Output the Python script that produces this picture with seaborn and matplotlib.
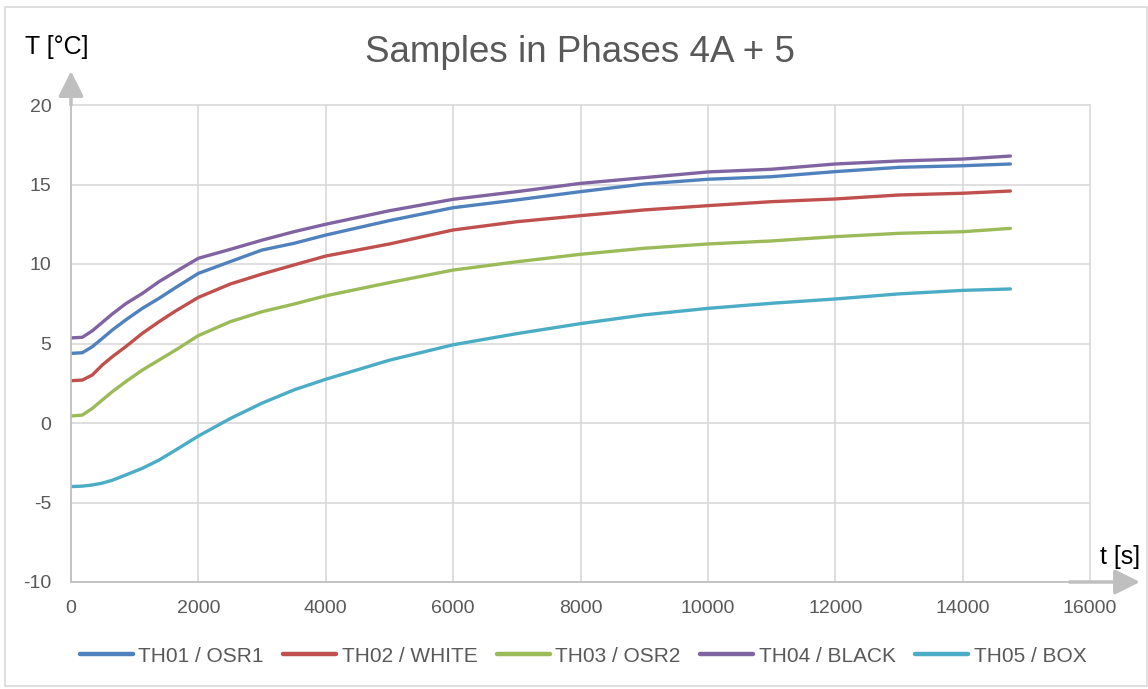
import numpy as np
import pandas as pd
import matplotlib
matplotlib.use("Agg")
import matplotlib.pyplot as plt
from matplotlib.patches import Rectangle
import seaborn as sns

# ---- data ----
t_s = [0, 178, 335, 492, 649, 859, 1120, 1382, 1644, 2000, 2500, 3000, 3500,
       4000, 5000, 6000, 7000, 8000, 9000, 10000, 11000, 12000, 13000, 14000, 14750]

th01_osr1 = [4.38, 4.42, 4.80, 5.32, 5.85, 6.48, 7.21, 7.84, 8.52, 9.41, 10.15, 10.88, 11.30,
             11.82, 12.73, 13.54, 14.03, 14.55, 15.03, 15.33, 15.49, 15.81, 16.08, 16.18, 16.29]
th02_white = [2.66, 2.70, 3.02, 3.65, 4.17, 4.80, 5.64, 6.37, 7.05, 7.90, 8.74, 9.37, 9.94,
              10.50, 11.26, 12.14, 12.66, 13.04, 13.40, 13.67, 13.92, 14.09, 14.34, 14.45, 14.59]
th03_osr2 = [0.44, 0.50, 0.92, 1.45, 1.97, 2.60, 3.33, 3.96, 4.59, 5.50, 6.37, 7.00, 7.48,
             8.00, 8.83, 9.62, 10.14, 10.61, 10.99, 11.26, 11.45, 11.72, 11.93, 12.03, 12.24]
th04_black = [5.35, 5.39, 5.80, 6.33, 6.86, 7.50, 8.15, 8.89, 9.52, 10.36, 10.92, 11.50, 12.03,
              12.50, 13.35, 14.07, 14.55, 15.07, 15.43, 15.79, 15.96, 16.29, 16.48, 16.60, 16.79]
th05_box = [-4.00, -3.97, -3.90, -3.78, -3.60, -3.27, -2.85, -2.33, -1.70, -0.82, 0.28, 1.25, 2.08,
            2.75, 3.95, 4.92, 5.62, 6.25, 6.80, 7.21, 7.53, 7.80, 8.12, 8.34, 8.43]

series_names = ["TH01 / OSR1", "TH02 / WHITE", "TH03 / OSR2", "TH04 / BLACK", "TH05 / BOX"]
series_values = [th01_osr1, th02_white, th03_osr2, th04_black, th05_box]
colors = ["#4F81BD", "#C0504D", "#9BBB59", "#8064A2", "#4BACC6"]

x_ticks = [0, 2000, 4000, 6000, 8000, 10000, 12000, 14000, 16000]
y_ticks = [-10, -5, 0, 5, 10, 15, 20]

df = pd.concat(
    [pd.DataFrame({"t": t_s, "T": v, "series": n}) for n, v in zip(series_names, series_values)],
    ignore_index=True,
)

sns.set_theme(style="white")
plt.rcParams["font.family"] = ["Liberation Sans", "DejaVu Sans"]

W, H = 1148, 689
fig = plt.figure(figsize=(W / 100, H / 100), dpi=100)
ax = fig.add_axes([71 / W, 1 - 582 / H, (1090 - 71) / W, (582 - 105) / H])

sns.lineplot(data=df, x="t", y="T", hue="series", hue_order=series_names,
             palette=colors, linewidth=2.4, ax=ax, legend=True)

ax.set_xlim(0, 16000)
ax.set_ylim(-10, 20)
ax.set_xticks(x_ticks)
ax.set_yticks(y_ticks)
ax.set_xticklabels([str(v) for v in x_ticks])
ax.set_yticklabels([str(v) for v in y_ticks])
ax.set_xlabel("")
ax.set_ylabel("")
ax.grid(True, color="#D9D9D9", linewidth=1.2)
for gl in ax.get_xgridlines() + ax.get_ygridlines():
    gl.set_clip_on(False)
ax.tick_params(axis="both", length=0, labelsize=14, colors="#595959")
ax.tick_params(axis="y", pad=14)
ax.tick_params(axis="x", pad=13)
for s in ["top", "right"]:
    ax.spines[s].set_visible(False)
for s in ["left", "bottom"]:
    ax.spines[s].set_color("#BFBFBF")
    ax.spines[s].set_linewidth(1.2)

# axis arrows
arrow_kw = dict(arrowstyle="-|>,head_length=0.9,head_width=0.45", color="#BFBFBF",
                lw=2.5, shrinkA=0, shrinkB=0, mutation_scale=17)
ax.annotate("", xy=(0, 1.071), xytext=(0, 1.0), xycoords="axes fraction",
            textcoords="axes fraction", arrowprops=arrow_kw, annotation_clip=False)
ax.annotate("", xy=(1.049, 0), xytext=(0.98, 0), xycoords="axes fraction",
            textcoords="axes fraction", arrowprops=arrow_kw, annotation_clip=False)

# labels
fig.text(25 / W, 1 - 47 / H, "T [°C]", fontsize=18, color="#000000", va="center", ha="left")
fig.text(1140 / W, 1 - 557 / H, "t [s]", fontsize=18, color="#000000", va="center", ha="right")
fig.text(580 / W, 1 - 52 / H, "Samples in Phases 4A + 5", fontsize=26.5, color="#595959",
         va="center", ha="center")

# legend
handles, labels = ax.get_legend_handles_labels()
ax.get_legend().remove()
leg = fig.legend(handles, labels, loc="center", bbox_to_anchor=(583 / W, 1 - 656 / H),
                 ncol=5, frameon=False, fontsize=15, handlelength=2.55, handletextpad=0.25,
                 columnspacing=0.94)
for txt in leg.get_texts():
    txt.set_color("#595959")
for ln in leg.get_lines():
    ln.set_linewidth(3.2)

# outer chart frame
fig.patches.append(Rectangle((5 / W, 3 / H), (W - 6) / W, (H - 10) / H,
                             transform=fig.transFigure, fill=False,
                             edgecolor="#D9D9D9", linewidth=1.2))

fig.savefig("out.png", dpi=100)
